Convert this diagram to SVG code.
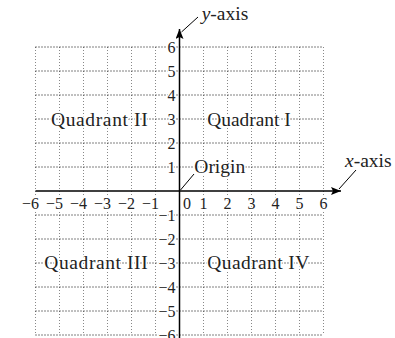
<svg xmlns="http://www.w3.org/2000/svg" width="395" height="338" viewBox="0 0 395 338">
<style>
.h{stroke:#000;stroke-width:1;stroke-dasharray:1 2;fill:none}
.v{stroke:#888;stroke-width:1;stroke-dasharray:1 2;fill:none}
.ax{stroke:#000;stroke-width:1.5;fill:none}
.ld{stroke:#000;stroke-width:1;fill:none}
text{font-family:"Liberation Serif","Times New Roman",serif;fill:#222;stroke:#fff;stroke-width:3;paint-order:stroke;stroke-linejoin:round}
.n{font-size:16px}
.q{font-size:19.5px}
</style>
<defs>
<marker id="ah" viewBox="0 0 10 8" refX="10" refY="4" markerWidth="10" markerHeight="8" markerUnits="userSpaceOnUse" orient="auto">
<path d="M0,0 L10,4 L0,8 L2,4 Z" fill="#000"/>
</marker>
</defs>
<rect width="395" height="338" fill="#fff"/>
<g id="grid">
<path class="v" d="M35.5,47V335M59.5,47V335M83.5,47V335M107.5,47V335M131.5,47V335M155.5,47V335M203.5,47V335M227.5,47V335M251.5,47V335M275.5,47V335M299.5,47V335M323.5,47V335"/>
<path class="h" d="M35.5,47H323.5M35.5,71H323.5M35.5,95H323.5M35.5,119H323.5M35.5,143H323.5M35.5,167H323.5M35.5,215H323.5M35.5,239H323.5M35.5,263H323.5M35.5,287H323.5M35.5,311H323.5M35.5,335H323.5"/>
</g>
<g id="connectors">
<path class="ax" d="M35.5,191H341" marker-end="url(#ah)"/>
<path class="ax" d="M179.5,338V29" marker-end="url(#ah)"/>
<path class="ld" d="M181.5,32L198,17"/>
<path class="ld" d="M339,189L356,170"/>
<path class="ld" d="M180.5,190L194,174"/>
</g>
<g id="y-ticks" class="n" text-anchor="end">
<text x="175.5" y="52.5">6</text>
<text x="175.5" y="76.5">5</text>
<text x="175.5" y="100.5">4</text>
<text x="175.5" y="124.5">3</text>
<text x="175.5" y="148.5">2</text>
<text x="175.5" y="172.5">1</text>
<text x="175.5" y="220.5">−1</text>
<text x="175.5" y="244.5">−2</text>
<text x="175.5" y="268.5">−3</text>
<text x="175.5" y="292.5">−4</text>
<text x="175.5" y="316.5">−5</text>
<text x="175.5" y="340.5">−6</text>
</g>
<g id="x-ticks" class="n">
<g text-anchor="end">
<text x="39" y="208.5">−6</text>
<text x="63" y="208.5">−5</text>
<text x="87" y="208.5">−4</text>
<text x="111" y="208.5">−3</text>
<text x="135" y="208.5">−2</text>
<text x="159" y="208.5">−1</text>
</g>
<g text-anchor="middle">
<text x="187" y="208.5">0</text>
<text x="203.5" y="208.5">1</text>
<text x="227.5" y="208.5">2</text>
<text x="251.5" y="208.5">3</text>
<text x="275.5" y="208.5">4</text>
<text x="299.5" y="208.5">5</text>
<text x="323.5" y="208.5">6</text>
</g>
</g>
<g id="quadrant-I"><text class="q" x="207.3" y="126" textLength="83.4">Quadrant I</text></g>
<g id="quadrant-II"><text class="q" x="51" y="126" textLength="96.7">Quadrant II</text></g>
<g id="quadrant-III"><text class="q" x="44.3" y="268.5" textLength="103.4">Quadrant III</text></g>
<g id="quadrant-IV"><text class="q" x="207.3" y="268.5" textLength="102">Quadrant IV</text></g>
<g id="origin"><text class="q" x="194.3" y="172.7">Origin</text></g>
<g id="y-axis-label"><text class="q" x="201.7" y="20"><tspan font-style="italic">y</tspan>-axis</text></g>
<g id="x-axis-label"><text class="q" x="345" y="166.7"><tspan font-style="italic">x</tspan>-axis</text></g>
</svg>
